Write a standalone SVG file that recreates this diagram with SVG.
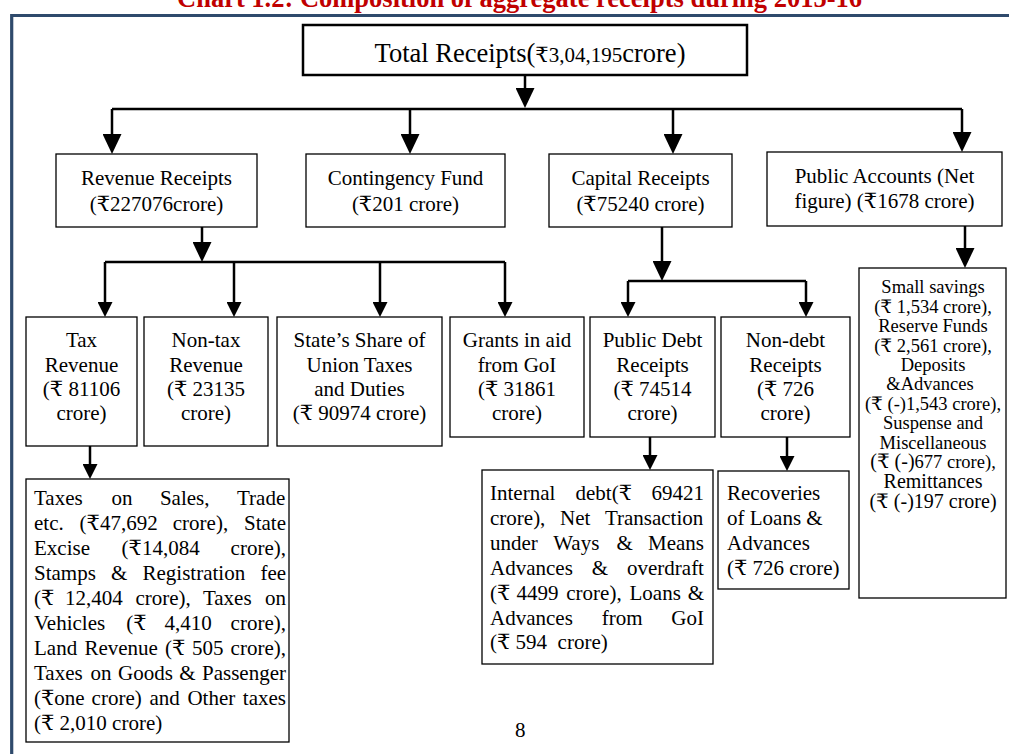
<svg xmlns="http://www.w3.org/2000/svg" width="1009" height="754" viewBox="0 0 1009 754">
<style>
text{font-family:"Liberation Serif","DejaVu Serif",serif;font-size:21px;fill:#000}
.c{text-anchor:middle}
.box{fill:#fff;stroke:#000;stroke-width:1.3}
.conn path{stroke:#000;stroke-width:2.5;fill:none}
.pa{font-size:18.5px}
.pb{font-size:20px}
</style>
<defs>
<marker id="big" markerUnits="userSpaceOnUse" markerWidth="20" markerHeight="19" viewBox="0 0 20 19" refX="10" refY="9.5" orient="auto"><path d="M0,0 L20,9.5 L0,19 Z" fill="#000"/></marker>
<marker id="sm" markerUnits="userSpaceOnUse" markerWidth="15" markerHeight="15" viewBox="0 0 15 15" refX="7.5" refY="7.5" orient="auto"><path d="M0,0 L15,7.5 L0,15 Z" fill="#000"/></marker>
</defs>
<rect width="1009" height="754" fill="#fff"/>
<text x="177" y="6.5" style="font-weight:bold;font-size:26.5px;fill:#C00000">Chart 1.2: Composition of aggregate receipts during 2015-16</text>
<path d="M11.7,754 V15.5 H1009" fill="none" stroke="#2F4A6C" stroke-width="3.2"/>

<g id="total"><rect class="box" x="303" y="25" width="444" height="50" style="stroke-width:2.5"/><text class="c" x="530" y="62" style="font-size:26.5px">Total Receipts(<tspan style="font-size:21px">₹3,04,195</tspan>crore)</text></g>

<g id="revenue"><rect class="box" x="56" y="154" width="201" height="73"/><text class="c" x="156.5" y="185">Revenue Receipts</text><text class="c" x="156.5" y="211">(₹227076crore)</text></g>
<g id="contingency"><rect class="box" x="306" y="154" width="199" height="73"/><text class="c" x="405.5" y="185">Contingency Fund</text><text class="c" x="405.5" y="211">(₹201 crore)</text></g>
<g id="capital"><rect class="box" x="549" y="154" width="183" height="73"/><text class="c" x="640.5" y="185">Capital Receipts</text><text class="c" x="640.5" y="211">(₹75240 crore)</text></g>
<g id="public-accounts"><rect class="box" x="767" y="152" width="235" height="74"/><text class="c" x="884.5" y="183">Public Accounts (Net</text><text class="c" x="884.5" y="208">figure) (₹1678 crore)</text></g>

<g id="tax"><rect class="box" x="26" y="317" width="111" height="129"/><text class="c" x="81.5" y="347">Tax</text><text class="c" x="81.5" y="371.5">Revenue</text><text class="c" x="81.5" y="396">(₹ 81106</text><text class="c" x="81.5" y="420">crore)</text></g>
<g id="nontax"><rect class="box" x="144" y="317" width="124" height="129"/><text class="c" x="206" y="347">Non-tax</text><text class="c" x="206" y="371.5">Revenue</text><text class="c" x="206" y="396">(₹ 23135</text><text class="c" x="206" y="420">crore)</text></g>
<g id="share"><rect class="box" x="277" y="317" width="165" height="129"/><text class="c" x="359.5" y="347">State’s Share of</text><text class="c" x="359.5" y="371.5">Union Taxes</text><text class="c" x="359.5" y="396">and Duties</text><text class="c" x="359.5" y="420">(₹ 90974 crore)</text></g>
<g id="grants"><rect class="box" x="450" y="317" width="134" height="120"/><text class="c" x="517" y="347">Grants in aid</text><text class="c" x="517" y="371.5">from GoI</text><text class="c" x="517" y="396">(₹ 31861</text><text class="c" x="517" y="420">crore)</text></g>
<g id="public-debt"><rect class="box" x="590" y="317" width="125" height="120"/><text class="c" x="652.5" y="347">Public Debt</text><text class="c" x="652.5" y="371.5">Receipts</text><text class="c" x="652.5" y="396">(₹ 74514</text><text class="c" x="652.5" y="420">crore)</text></g>
<g id="non-debt"><rect class="box" x="721" y="317" width="129" height="120"/><text class="c" x="785.5" y="347">Non-debt</text><text class="c" x="785.5" y="371.5">Receipts</text><text class="c" x="785.5" y="396">(₹ 726</text><text class="c" x="785.5" y="420">crore)</text></g>

<g id="pa-detail"><rect class="box" x="859" y="268" width="147" height="330"/>
<text class="c pa" x="933" y="293">Small savings</text>
<text class="c pa" x="933" y="313">(₹ 1,534 crore),</text>
<text class="c pa" x="933" y="332">Reserve Funds</text>
<text class="c pa" x="933" y="352">(₹ 2,561 crore),</text>
<text class="c pa" x="933" y="371">Deposits</text>
<text class="c pa" x="930" y="390">&amp;Advances</text>
<text class="c pa" x="933" y="410">(₹ (-)1,543 crore),</text>
<text class="c pa" x="933" y="429">Suspense and</text>
<text class="c pa" x="933" y="449">Miscellaneous</text>
<text class="c pa" x="933" y="468"><tspan style="font-size:20px">(₹ (-)</tspan>677 crore),</text>
<text class="c pb" x="933" y="488">Remittances</text>
<text class="c pb" x="933" y="508">(₹ (-)197 crore)</text>
</g>

<g id="tax-detail"><rect class="box" x="26" y="479" width="263" height="263"/>
<text y="505"><tspan x="34">Taxes </tspan><tspan x="111.5">on </tspan><tspan x="159.9">Sales, </tspan><tspan x="237">Trade</tspan></text>
<text y="530"><tspan x="34">etc. </tspan><tspan x="79.6">(₹47,692 </tspan><tspan x="172.8">crore), </tspan><tspan x="244">State</tspan></text>
<text y="555"><tspan x="34">Excise </tspan><tspan x="121.6">(₹14,084 </tspan><tspan x="230.6">crore),</tspan></text>
<text y="580"><tspan x="34">Stamps </tspan><tspan x="111">&amp; </tspan><tspan x="142.5">Registration </tspan><tspan x="260.4">fee</tspan></text>
<text y="605"><tspan x="34">(₹ </tspan><tspan x="65">12,404 </tspan><tspan x="135.4">crore), </tspan><tspan x="202.9">Taxes </tspan><tspan x="265">on</tspan></text>
<text y="630"><tspan x="34">Vehicles </tspan><tspan x="126.25">(₹ </tspan><tspan x="164.6">4,410 </tspan><tspan x="230.6">crore),</tspan></text>
<text y="655"><tspan x="34">Land </tspan><tspan x="84.4">Revenue </tspan><tspan x="165.1">(₹ </tspan><tspan x="191.9">505 </tspan><tspan x="230.6">crore),</tspan></text>
<text y="680"><tspan x="34">Taxes </tspan><tspan x="90.55">on </tspan><tspan x="118">Goods </tspan><tspan x="179.25">&amp; </tspan><tspan x="202">Passenger</tspan></text>
<text y="705"><tspan x="34">(₹one </tspan><tspan x="91.6">crore) </tspan><tspan x="149.4">and </tspan><tspan x="187.4">Other </tspan><tspan x="242.8">taxes</tspan></text>
<text x="34" y="730">(₹ 2,010 crore)</text>
</g>

<g id="debt-detail"><rect class="box" x="482" y="470" width="231" height="194"/>
<text y="500"><tspan x="490">Internal </tspan><tspan x="575.5">debt(₹ </tspan><tspan x="651.5">69421</tspan></text>
<text y="525"><tspan x="490">crore), </tspan><tspan x="560">Net </tspan><tspan x="604.9">Transaction</tspan></text>
<text y="550"><tspan x="490">under </tspan><tspan x="553.2">Ways </tspan><tspan x="616.4">&amp; </tspan><tspan x="648">Means</tspan></text>
<text y="575"><tspan x="490">Advances </tspan><tspan x="591.75">&amp; </tspan><tspan x="627">overdraft</tspan></text>
<text y="600"><tspan x="490">(₹ </tspan><tspan x="516.5">4499 </tspan><tspan x="566.3">crore), </tspan><tspan x="629.5">Loans </tspan><tspan x="687.7">&amp;</tspan></text>
<text y="625"><tspan x="490">Advances </tspan><tspan x="601.65">from </tspan><tspan x="671.3">GoI</tspan></text>
<text x="490" y="649" xml:space="preserve">(₹ 594  crore)</text>
</g>

<g id="recoveries"><rect class="box" x="718" y="471" width="131" height="118"/>
<text x="727" y="500">Recoveries</text><text x="727" y="525">of Loans &amp;</text><text x="727" y="550">Advances</text><text x="727" y="575">(₹ 726 crore)</text>
</g>

<g class="conn" id="connectors">
<path d="M525,76 V98" marker-end="url(#big)"/>
<path d="M112,109 H962"/>
<path d="M112,109 V144" marker-end="url(#big)"/>
<path d="M410,109 V144" marker-end="url(#big)"/>
<path d="M673,109 V144" marker-end="url(#big)"/>
<path d="M962,109 V142" marker-end="url(#big)"/>
<path d="M202,227 V252" marker-end="url(#big)"/>
<path d="M105,262 H505"/>
<path d="M105,262 V309.5" marker-end="url(#sm)"/>
<path d="M234,262 V309.5" marker-end="url(#sm)"/>
<path d="M380,262 V309.5" marker-end="url(#sm)"/>
<path d="M505,262 V309.5" marker-end="url(#sm)"/>
<path d="M662,227 V271" marker-end="url(#big)"/>
<path d="M628,281 H806"/>
<path d="M628,281 V309.5" marker-end="url(#sm)"/>
<path d="M806,281 V309.5" marker-end="url(#sm)"/>
<path d="M965,226 V258" marker-end="url(#big)"/>
<path d="M90,446 V471.5" marker-end="url(#sm)"/>
<path d="M650,437 V462.5" marker-end="url(#sm)"/>
<path d="M787,437 V463.5" marker-end="url(#sm)"/>
</g>

<text x="515" y="737">8</text>
</svg>
